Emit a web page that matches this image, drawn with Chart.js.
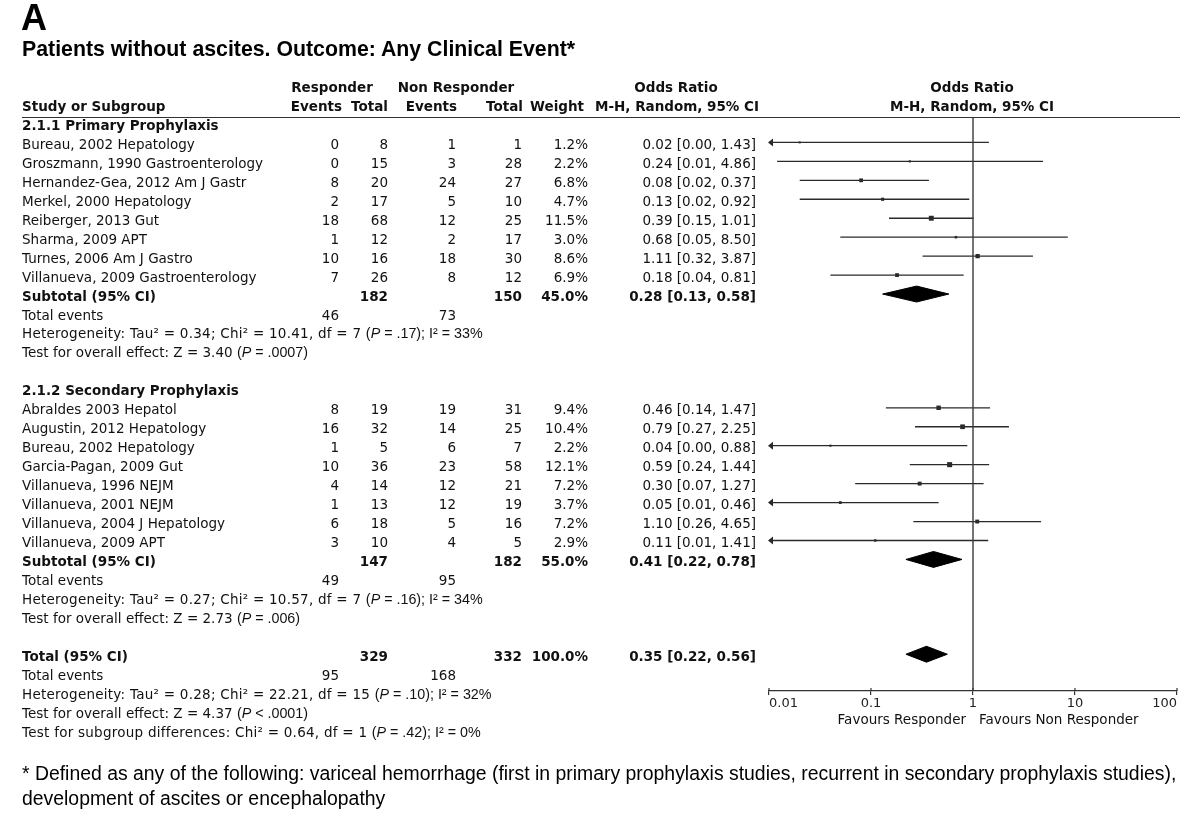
<!DOCTYPE html>
<html><head><meta charset="utf-8">
<script src="https://cdn.jsdelivr.net/npm/chart.js@4.4.1/dist/chart.umd.min.js"></script>
<style>
html,body{margin:0;padding:0;background:#fff;}
#wrap{position:relative;width:1200px;height:815px;overflow:hidden;background:#fff;}
#c{position:absolute;left:0;top:0;width:1200px;height:815px;}
.t{position:absolute;white-space:nowrap;font-family:"DejaVu Sans",sans-serif;font-size:13.5px;color:#111;line-height:19px;}
.b{font-weight:bold;}
.s{letter-spacing:0.25px;}
.h{font-family:"Liberation Sans",Arial,sans-serif;font-size:14.3px;letter-spacing:0;}
.big{position:absolute;white-space:nowrap;font-family:"Liberation Sans",Arial,sans-serif;color:#000;}
</style></head>
<body><div id="wrap"><canvas id="c" width="1200" height="815"></canvas></div>
<script>
// ---------------- data ----------------
const X_MIN = 0.01, X_MAX = 100;
const TICK_VALUES = [0.01, 0.1, 1, 10, 100];
const TICK_LABELS = ['0.01', '0.1', '1', '10', '100'];

const primaryStudies = ['Bureau, 2002 Hepatology','Groszmann, 1990 Gastroenterology','Hernandez-Gea, 2012 Am J Gastr','Merkel, 2000 Hepatology','Reiberger, 2013 Gut','Sharma, 2009 APT','Turnes, 2006 Am J Gastro','Villanueva, 2009 Gastroenterology'];
const primaryRespEvents = [0, 0, 8, 2, 18, 1, 10, 7];
const primaryRespTotal  = [8, 15, 20, 17, 68, 12, 16, 26];
const primaryNonEvents  = [1, 3, 24, 5, 12, 2, 18, 8];
const primaryNonTotal   = [1, 28, 27, 10, 25, 17, 30, 12];
const primaryWeight     = [1.2, 2.2, 6.8, 4.7, 11.5, 3.0, 8.6, 6.9];
const primaryOR         = [0.02, 0.24, 0.08, 0.13, 0.39, 0.68, 1.11, 0.18];
const primaryLo         = [0.001, 0.012, 0.02, 0.02, 0.15, 0.05, 0.32, 0.04];
const primaryHi         = [1.43, 4.86, 0.37, 0.92, 1.01, 8.50, 3.87, 0.81];
const primaryCIText     = ['0.02 [0.00, 1.43]','0.24 [0.01, 4.86]','0.08 [0.02, 0.37]','0.13 [0.02, 0.92]','0.39 [0.15, 1.01]','0.68 [0.05, 8.50]','1.11 [0.32, 3.87]','0.18 [0.04, 0.81]'];

const secondaryStudies = ['Abraldes 2003 Hepatol','Augustin, 2012 Hepatology','Bureau, 2002 Hepatology','Garcia-Pagan, 2009 Gut','Villanueva, 1996 NEJM','Villanueva, 2001 NEJM','Villanueva, 2004 J Hepatology','Villanueva, 2009 APT'];
const secondaryRespEvents = [8, 16, 1, 10, 4, 1, 6, 3];
const secondaryRespTotal  = [19, 32, 5, 36, 14, 13, 18, 10];
const secondaryNonEvents  = [19, 14, 6, 23, 12, 12, 5, 4];
const secondaryNonTotal   = [31, 25, 7, 58, 21, 19, 16, 5];
const secondaryWeight     = [9.4, 10.4, 2.2, 12.1, 7.2, 3.7, 7.2, 2.9];
const secondaryOR         = [0.46, 0.79, 0.04, 0.59, 0.30, 0.05, 1.10, 0.11];
const secondaryLo         = [0.14, 0.27, 0.002, 0.24, 0.07, 0.006, 0.26, 0.007];
const secondaryHi         = [1.47, 2.25, 0.88, 1.44, 1.27, 0.46, 4.65, 1.41];
const secondaryCIText     = ['0.46 [0.14, 1.47]','0.79 [0.27, 2.25]','0.04 [0.00, 0.88]','0.59 [0.24, 1.44]','0.30 [0.07, 1.27]','0.05 [0.01, 0.46]','1.10 [0.26, 4.65]','0.11 [0.01, 1.41]'];

const summaryLabels    = ['Subtotal (95% CI)', 'Subtotal (95% CI)', 'Total (95% CI)'];
const summaryRespTotal = [182, 147, 329];
const summaryNonTotal  = [150, 182, 332];
const summaryWeight    = ['45.0%', '55.0%', '100.0%'];
const summaryOR        = [0.28, 0.41, 0.35];
const summaryLo        = [0.13, 0.22, 0.22];
const summaryHi        = [0.58, 0.78, 0.56];
const summaryCIText    = ['0.28 [0.13, 0.58]', '0.41 [0.22, 0.78]', '0.35 [0.22, 0.56]'];
const totalEventsResp  = [46, 49, 95];
const totalEventsNon   = [73, 95, 168];
const heterogeneityMain = ['Heterogeneity: Tau² = 0.34; Chi² = 10.41, df = 7 ', 'Heterogeneity: Tau² = 0.27; Chi² = 10.57, df = 7 ', 'Heterogeneity: Tau² = 0.28; Chi² = 22.21, df = 15 '];
const heterogeneityP    = ['.17', '.16', '.10'];
const heterogeneityI2   = ['33%', '34%', '32%'];
const overallMain = ['Test for overall effect: Z = 3.40 ', 'Test for overall effect: Z = 2.73 ', 'Test for overall effect: Z = 4.37 '];
const overallP    = ['= .0007', '= .006', '< .0001'];
const subgroupHeaders = ['2.1.1 Primary Prophylaxis', '2.1.2 Secondary Prophylaxis'];

// ---------------- layout (rows) ----------------
const Y_MIN = -0.34, Y_MAX = 29.94;
const primaryRows = [1,2,3,4,5,6,7,8];
const secondaryRows = [15,16,17,18,19,20,21,22];
const summaryRowIdx = [9, 23, 28];
const groupHeaderRows = [0, 14];

const allRows = primaryRows.concat(secondaryRows);
const allOR = primaryOR.concat(secondaryOR);
const allLo = primaryLo.concat(secondaryLo);
const allHi = primaryHi.concat(secondaryHi);
const allW  = primaryWeight.concat(secondaryWeight);

const INK = '#2a2a2a';
const datasets = [];
// line of no effect
datasets.push({ data: [{x: 1, y: Y_MIN}, {x: 1, y: Y_MAX}], borderColor: '#3a3a3a', borderWidth: 1.4, pointRadius: 0, clip: false });
// confidence intervals
allRows.forEach((r, i) => {
  datasets.push({ data: [{x: Math.max(allLo[i], X_MIN), y: r}, {x: allHi[i], y: r}], borderColor: INK, borderWidth: 1.3, pointRadius: 0 });
});
// squares (weight proportional)
datasets.push({
  data: allRows.map((r, i) => ({x: allOR[i], y: r})),
  showLine: false, pointStyle: 'rect',
  pointRadius: allW.map(w => Math.max(2, 1.45 * Math.sqrt(w)) / Math.SQRT2),
  pointBackgroundColor: INK, pointBorderWidth: 0, pointBorderColor: INK
});
// diamonds
const DH = 0.42;
summaryRowIdx.forEach((r, i) => {
  datasets.push({
    data: [{x: summaryLo[i], y: r}, {x: summaryOR[i], y: r - DH}, {x: summaryHi[i], y: r}, {x: summaryOR[i], y: r + DH}, {x: summaryLo[i], y: r}],
    borderColor: '#000', borderWidth: 1, backgroundColor: '#000', fill: 'shape', pointRadius: 0
  });
});

const arrowPlugin = {
  id: 'arrows',
  afterDatasetsDraw(chart) {
    const {ctx, chartArea, scales: {x, y}} = chart;
    allRows.forEach((r, i) => {
      if (allLo[i] < x.min) {
        const py = y.getPixelForValue(r), px = chartArea.left;
        ctx.save(); ctx.fillStyle = INK; ctx.beginPath();
        ctx.moveTo(px - 1, py); ctx.lineTo(px + 4, py - 4); ctx.lineTo(px + 4, py + 4); ctx.closePath(); ctx.fill(); ctx.restore();
      }
    });
    // upward halves of axis tick marks
    ctx.save(); ctx.strokeStyle = '#333'; ctx.lineWidth = 1.2;
    x.ticks.forEach(t => {
      const px = x.getPixelForValue(t.value);
      ctx.beginPath(); ctx.moveTo(px, chartArea.bottom); ctx.lineTo(px, chartArea.bottom - 3); ctx.stroke();
    });
    ctx.restore();
  }
};

const chart = new Chart(document.getElementById('c'), {
  type: 'line',
  data: { datasets },
  options: {
    responsive: false, animation: false, devicePixelRatio: 1,
    layout: { padding: { left: 769, right: 23, top: 117, bottom: 0 } },
    plugins: { legend: { display: false }, tooltip: { enabled: false } },
    elements: { line: { tension: 0 } },
    scales: {
      x: {
        type: 'logarithmic', min: X_MIN, max: X_MAX,
        afterBuildTicks: s => { s.ticks = TICK_VALUES.map(v => ({ value: v })); },
        afterFit: s => { s.height = 124; },
        ticks: { callback: (v, i) => TICK_LABELS[i], align: 'inner', color: '#222', font: { family: 'DejaVu Sans', size: 13 }, padding: 1, maxRotation: 0, autoSkip: false },
        grid: { drawOnChartArea: false, drawTicks: true, tickLength: 4, color: '#333', lineWidth: 1.2 },
        border: { display: true, color: '#333', width: 1.3 }
      },
      y: { type: 'linear', reverse: true, min: Y_MIN, max: Y_MAX, display: false }
    }
  },
  plugins: [arrowPlugin]
});

// ---------------- text ----------------
const wrap = document.getElementById('wrap');
const ys = chart.scales.y;
function rowTop(r) { return ys.getPixelForValue(r) - 7.5; }
function put(html, x, top, align, cls) {
  const d = document.createElement('div');
  d.className = 't' + (cls ? ' ' + cls : '');
  d.innerHTML = html;
  d.style.top = top + 'px';
  if (align === 'right') d.style.right = (1200 - x) + 'px';
  else if (align === 'center') { d.style.left = x + 'px'; d.style.transform = 'translateX(-50%)'; }
  else d.style.left = x + 'px';
  wrap.appendChild(d);
}
const COL = { name: 22, re: 339, rt: 388, ne: 456, nt: 522, w: 588, or: 756 };

// headers
put('Responder', 332, rowTop(-2), 'center', 'b');
put('Non Responder', 456, rowTop(-2), 'center', 'b');
put('Odds Ratio', 676, rowTop(-2), 'center', 'b');
put('Odds Ratio', 972, rowTop(-2), 'center', 'b');
put('Study or Subgroup', COL.name, rowTop(-1), 'left', 'b');
put('Events', 342, rowTop(-1), 'right', 'b');
put('Total', COL.rt, rowTop(-1), 'right', 'b');
put('Events', 457, rowTop(-1), 'right', 'b');
put('Total', 523, rowTop(-1), 'right', 'b');
put('Weight', 584, rowTop(-1), 'right', 'b');
put('M-H, Random, 95% CI', 677, rowTop(-1), 'center', 'b');
put('M-H, Random, 95% CI', 972, rowTop(-1), 'center', 'b');
const rule = document.createElement('div');
rule.style.cssText = 'position:absolute;left:22px;width:1158px;height:0;border-top:1.3px solid #333;top:' + (ys.getPixelForValue(Y_MIN) - 0.5) + 'px';
wrap.appendChild(rule);

groupHeaderRows.forEach((r, g) => put(subgroupHeaders[g], COL.name, rowTop(r), 'left', 'b'));

function studyRow(r, name, re, rt, ne, nt, w, txt) {
  const t = rowTop(r);
  put(name, COL.name, t, 'left');
  put(String(re), COL.re, t, 'right');
  put(String(rt), COL.rt, t, 'right');
  put(String(ne), COL.ne, t, 'right');
  put(String(nt), COL.nt, t, 'right');
  put(w.toFixed(1) + '%', COL.w, t, 'right');
  put(txt, COL.or, t, 'right');
}
primaryRows.forEach((r, i) => studyRow(r, primaryStudies[i], primaryRespEvents[i], primaryRespTotal[i], primaryNonEvents[i], primaryNonTotal[i], primaryWeight[i], primaryCIText[i]));
secondaryRows.forEach((r, i) => studyRow(r, secondaryStudies[i], secondaryRespEvents[i], secondaryRespTotal[i], secondaryNonEvents[i], secondaryNonTotal[i], secondaryWeight[i], secondaryCIText[i]));

summaryRowIdx.forEach((r, i) => {
  const t = rowTop(r);
  put(summaryLabels[i], COL.name, t, 'left', 'b');
  put(String(summaryRespTotal[i]), COL.rt, t, 'right', 'b');
  put(String(summaryNonTotal[i]), COL.nt, t, 'right', 'b');
  put(summaryWeight[i], COL.w, t, 'right', 'b');
  put(summaryCIText[i], COL.or, t, 'right', 'b');
  const t1 = rowTop(r + 1), t2 = rowTop(r + 2), t3 = rowTop(r + 3);
  put('Total events', COL.name, t1, 'left');
  put(String(totalEventsResp[i]), COL.re, t1, 'right');
  put(String(totalEventsNon[i]), COL.ne, t1, 'right');
  put(heterogeneityMain[i] + '<span class="h">(<i>P</i> = ' + heterogeneityP[i] + '); I² = ' + heterogeneityI2[i] + '</span>', COL.name, t2, 'left', 's');
  put(overallMain[i] + '<span class="h">(<i>P</i> ' + overallP[i] + ')</span>', COL.name, t3, 'left');
});
put('Test for subgroup differences: Chi² = 0.64, df = 1 <span class="h">(<i>P</i> = .42); I² = 0%</span>', COL.name, rowTop(32), 'left', 's');

// axis captions
put('Favours Responder', 966, 710, 'right');
put('Favours Non Responder', 979, 710, 'left');

// titles & footnote
function big(html, left, top, size, weight, lh) {
  const d = document.createElement('div');
  d.className = 'big';
  d.innerHTML = html;
  d.style.cssText += ';left:' + left + 'px;top:' + top + 'px;font-size:' + size + 'px;font-weight:' + weight + ';line-height:' + lh + 'px';
  wrap.appendChild(d);
}
big('A', 21, 0, 36, 'bold', 36);
big('Patients without ascites. Outcome: Any Clinical Event*', 22, 39, 21.3, 'bold', 21);
big('* Defined as any of the following: variceal hemorrhage (first in primary prophylaxis studies, recurrent in secondary prophylaxis studies),<br>development of ascites or encephalopathy', 22, 761, 19.4, 'normal', 25);
</script>
</body></html>
